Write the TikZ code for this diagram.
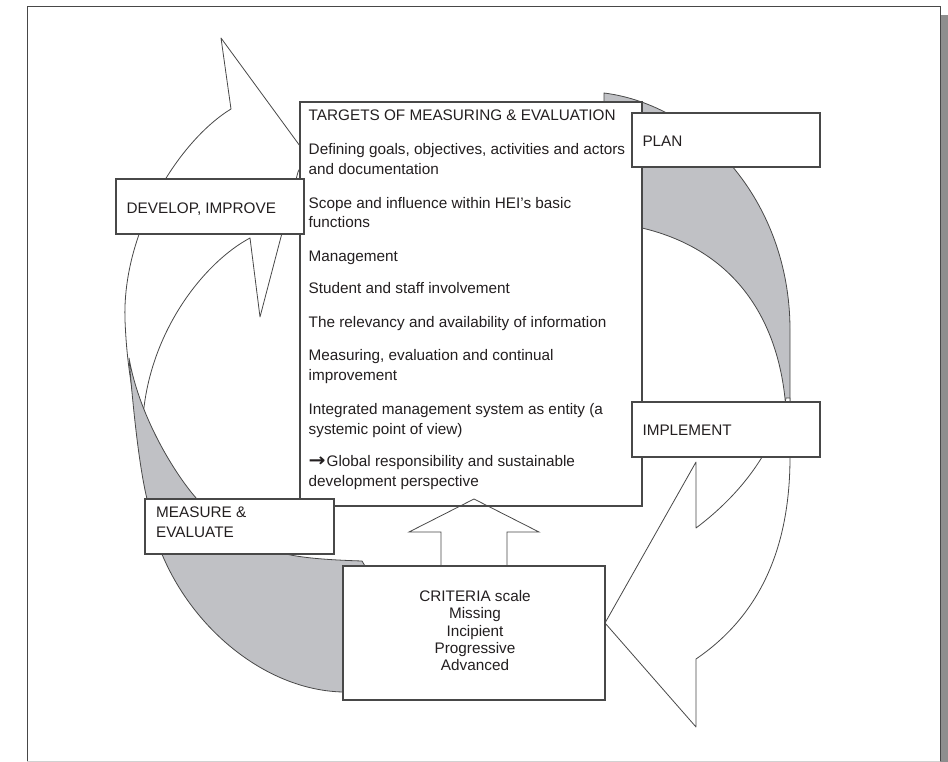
\documentclass[tikz,border=0pt]{standalone}
\usepackage{fontspec}
\setmainfont{Liberation Sans}
\newfontfamily\arrowfont{DejaVu Sans}
\usetikzlibrary{calc}
\definecolor{ink}{RGB}{35,31,32}
\definecolor{edge}{RGB}{72,72,72}
\definecolor{ribbon}{RGB}{192,193,197}
\definecolor{pageshadow}{RGB}{142,142,142}

\begin{document}
\begin{tikzpicture}[x=1pt,y=-1pt,
  shapeline/.style={draw=edge, line width=0.8pt, line join=round},
  boxnode/.style={draw=edge, line width=1.1pt, fill=white, rectangle, inner sep=0pt},
  lbl/.style={anchor=base west, inner sep=0pt, text=ink, font=\fontsize{15.3}{18}\selectfont},
  ctr/.style={lbl, anchor=base}
]
\useasboundingbox (0,0) rectangle (948,762);

% page frame with its shadow
\fill[pageshadow] (940,15) rectangle (948,762);
\draw[edge, line width=1pt] (27,761) -- (27,7) -- (940,7) -- (940,761);
\draw[black!18, line width=1pt] (27,761) -- (940,761);

% back face of the right ribbon (PLAN side)
\path[shapeline, fill=ribbon] (604,93) .. controls (700,105) and (790,200) .. (790,330)
  -- (790,430) -- (783,430) -- (786,410) .. controls (780,320) and (735,250) .. (642,228)
  -- (604,222) -- cycle;

% right curved arrow, head pointing to the criteria box
\path[shapeline, fill=white] (605,623) -- (696,462) -- (696,528)
  .. controls (740,495) and (775,450) .. (786,398) -- (790,398) -- (790,457)
  .. controls (790,540) and (765,612) .. (696,659) -- (696,727) -- cycle;

% left curved arrow, head pointing up
\path[shapeline, fill=white] (221,38) -- (300,146) .. controls (306,154) and (304,160) .. (298,172)
  -- (260,317) -- (250,238) .. controls (205,262) and (150,330) .. (143,417)
  -- (133,395) .. controls (128,365) and (126,345) .. (125,320)
  .. controls (122,230) and (180,140) .. (231,109) -- cycle;

% back face of the left ribbon (MEASURE side)
\path[shapeline, fill=ribbon] (129,358) .. controls (134,420) and (140,470) .. (147,499)
  .. controls (160,600) and (250,690) .. (343,692) -- (365,693) -- (365,566) -- (362,561)
  .. controls (330,560) and (300,558) .. (282,553) .. controls (250,543) and (220,522) .. (197,499)
  .. controls (178,478) and (140,420) .. (129,358) -- cycle;

% central box of targets
\node[boxnode, minimum width=342pt, minimum height=404pt] (targets) at (471,304) {};
\node[lbl] (t0)  at (308.5,121)   {TARGETS OF MEASURING \& EVALUATION};
\node[lbl] (t1a) at (308.5,154.3) {Defining goals, objectives, activities and actors};
\node[lbl] (t1b) at (308.5,174.3) {and documentation};
\node[lbl] (t2a) at (308.5,208.3) {Scope and influence within HEI’s basic};
\node[lbl] (t2b) at (308.5,227.7) {functions};
\node[lbl] (t3)  at (308.5,261.7) {Management};
\node[lbl] (t4)  at (308.5,294)   {Student and staff involvement};
\node[lbl] (t5)  at (308.5,327.7) {The relevancy and availability of information};
\node[lbl] (t6a) at (308.5,360.7) {Measuring, evaluation and continual};
\node[lbl] (t6b) at (308.5,380)   {improvement};
\node[lbl] (t7a) at (308.5,414)   {Integrated management system as entity (a};
\node[lbl] (t7b) at (308.5,434)   {systemic point of view)};
\node[lbl] (t8a) at (308.5,466.7) {\scalebox{1.35}[1.2]{\arrowfont\bfseries\fontsize{15}{18}\selectfont →}\kern1pt Global responsibility and sustainable};
\node[lbl] (t8b) at (308.5,486.7) {development perspective};

% criteria box and the block arrow feeding the targets
\coordinate (cn) at (474,566);
\draw[edge, line width=0.8pt, line join=miter]
  ($(cn)+(-33,0)$) -- ($(cn)+(-33,-34)$) -- ($(cn)+(-65,-34)$) -- ($(cn)+(0,-67)$)
  -- ($(cn)+(65,-34)$) -- ($(cn)+(33,-34)$) -- ($(cn)+(33,0)$);
\node[boxnode, minimum width=262pt, minimum height=134pt] (criteria) at (474,633) {};
\node[ctr] (c0) at (475,601)   {CRITERIA scale};
\node[ctr] (c1) at (475,618.5) {Missing};
\node[ctr] (c2) at (475,636)   {Incipient};
\node[ctr] (c3) at (475,653.5) {Progressive};
\node[ctr] (c4) at (475,670.5) {Advanced};

% stage labels
\node[boxnode, minimum width=188pt, minimum height=54pt] (plan) at (726,140) {};
\node[lbl] (planT) at (642.3,146.7) {PLAN};
\node[boxnode, minimum width=188pt, minimum height=55pt] (impl) at (726,429.5) {};
\node[lbl] (implT) at (642.3,435.7) {IMPLEMENT};
\node[boxnode, minimum width=188pt, minimum height=55pt] (dev) at (210,206.5) {};
\node[lbl] (devT) at (126.5,213.3) {DEVELOP, IMPROVE};
\node[boxnode, minimum width=189pt, minimum height=55pt] (meas) at (239.5,526.5) {};
\node[lbl] (measA) at (156,517.7) {MEASURE \&};
\node[lbl] (measB) at (156,537.7) {EVALUATE};
\end{tikzpicture}
\end{document}
